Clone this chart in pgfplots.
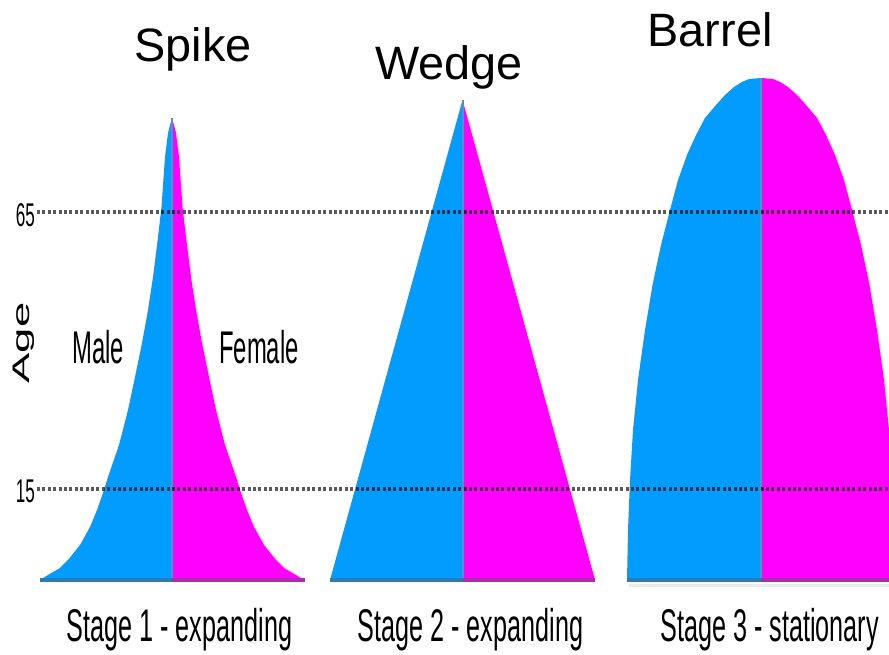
\documentclass[border=0pt]{standalone}
\usepackage{pgfplots}
\pgfplotsset{compat=1.18}
\usepackage{graphicx}
\usepackage{fontspec}
\setmainfont{Liberation Sans}
\definecolor{mblue}{HTML}{009CFF}
\definecolor{fmag}{HTML}{FF00FF}
\definecolor{bblue}{HTML}{2E7BB3}
\definecolor{bmag}{HTML}{A82FAA}
\definecolor{cline}{HTML}{6A86C4}
\newcommand{\cond}[3][0.52]{\scalebox{#1}[1]{\fontsize{#2}{#2}\selectfont #3}}
\begin{document}
\begin{tikzpicture}
\begin{axis}[width=444.5bp, height=327.5bp, scale only axis,
  xmin=0, xmax=889, ymin=0, ymax=655, hide axis, clip=true]
% ---- Spike (stage 1) ----
\addplot[fill=mblue, draw=none] coordinates {
 (172,75) (40,75) (48,80) (60,87) (68,95) (80,110) (90,128) (97,145) (104,165)
 (108,178) (119,210) (128,245) (135,278) (142,312) (148,345) (153,378) (158,418)
 (161.5,448) (165,498) (168,522) (170,530) (172,537)} --cycle;
\addplot[fill=fmag, draw=none] coordinates {
 (172,75) (304,75) (296,80) (284,87) (276,95) (264,110) (254,128) (247,145) (240,165)
 (236,178) (225,210) (216,245) (209,278) (202,312) (196,345) (191,378) (186,418)
 (182.5,448) (179,498) (176,522) (174,530) (172,537)} --cycle;
\addplot[draw=cline, line width=1bp] coordinates {(172,75) (172,537)};
% ---- Wedge (stage 2) ----
\addplot[fill=mblue, draw=none] coordinates {(462.5,75) (330,75) (462.5,555)} --cycle;
\addplot[fill=fmag, draw=none] coordinates {(462.5,75) (595,75) (462.5,555)} --cycle;
\addplot[draw=cline, line width=1bp] coordinates {(462.5,75) (462.5,555)};
% ---- Barrel (stage 3) ----
\addplot[fill=mblue, draw=none] coordinates {
 (761,75) (627,75) (628,125) (630,175) (633,225) (638,275) (645,325) (652.5,370)
 (661,410) (670,445) (678,475) (687,500) (696,520) (705,537) (716,550) (725,560)
 (734,568) (742,573) (749,576) (761,577)} --cycle;
\addplot[fill=fmag, draw=none] coordinates {
 (761,75) (895,75) (894,125) (892,175) (889,225) (884,275) (877,325) (869.5,370)
 (861,410) (852,445) (844,475) (835,500) (826,520) (817,537) (806,550) (797,560)
 (788,568) (780,573) (773,576) (761,577)} --cycle;
\addplot[draw=cline, line width=1bp] coordinates {(761,75) (761,577)};
% ---- dark base strips ----
\addplot[draw=bblue, line width=2bp] coordinates {(40,75) (172,75)};
\addplot[draw=bmag, line width=2bp] coordinates {(172,75) (305,75)};
\addplot[draw=bblue, line width=2bp] coordinates {(330,75) (462.5,75)};
\addplot[draw=bmag, line width=2bp] coordinates {(462.5,75) (595,75)};
\addplot[draw=black!8, line width=1.5bp] coordinates {(629,69) (889,69)};
\addplot[draw=bblue, line width=2bp] coordinates {(627,75) (761,75)};
\addplot[draw=bmag, line width=2bp] coordinates {(761,75) (889,75)};
% ---- dotted age lines ----
\addplot[draw=black, draw opacity=0.65, line width=2bp, dash pattern=on 1.5bp off 1.2bp] coordinates {(37,443) (889,443)};
\addplot[draw=black, draw opacity=0.65, line width=2bp, dash pattern=on 1.5bp off 1.2bp] coordinates {(37,166) (889,166)};
% ---- texts ----
\node[anchor=base, inner sep=0] at (axis cs:193,593) {\fontsize{23.5}{23.5}\selectfont Spike};
\node[anchor=base, inner sep=0] at (axis cs:449,575) {\fontsize{23.5}{23.5}\selectfont Wedge};
\node[anchor=base, inner sep=0] at (axis cs:710,608) {\fontsize{23.5}{23.5}\selectfont Barrel};
\node[anchor=base, inner sep=0] at (axis cs:179.5,14) {\cond[0.55]{23}{Stage 1 - expanding}};
\node[anchor=base, inner sep=0] at (axis cs:470.5,14) {\cond[0.55]{23}{Stage 2 - expanding}};
\node[anchor=base, inner sep=0] at (axis cs:769.5,14) {\cond[0.55]{23}{Stage 3 - stationary}};
\node[anchor=base, inner sep=0] at (axis cs:98,291) {\cond{23}{Male}};
\node[anchor=base, inner sep=0] at (axis cs:259,291) {\cond{23}{Female}};
\node[anchor=base, inner sep=0] at (axis cs:25.5,428) {\cond{16.5}{65}};
\node[anchor=base, inner sep=0] at (axis cs:25.5,152) {\cond{16.5}{15}};
\node[rotate=90, inner sep=0] at (axis cs:24,312) {\scalebox{1.9}[1]{\fontsize{12}{12}\selectfont Age}};
\end{axis}
\pgfresetboundingbox
\path[use as bounding box] (current axis.south west) rectangle (current axis.north east);
\end{tikzpicture}
\end{document}
